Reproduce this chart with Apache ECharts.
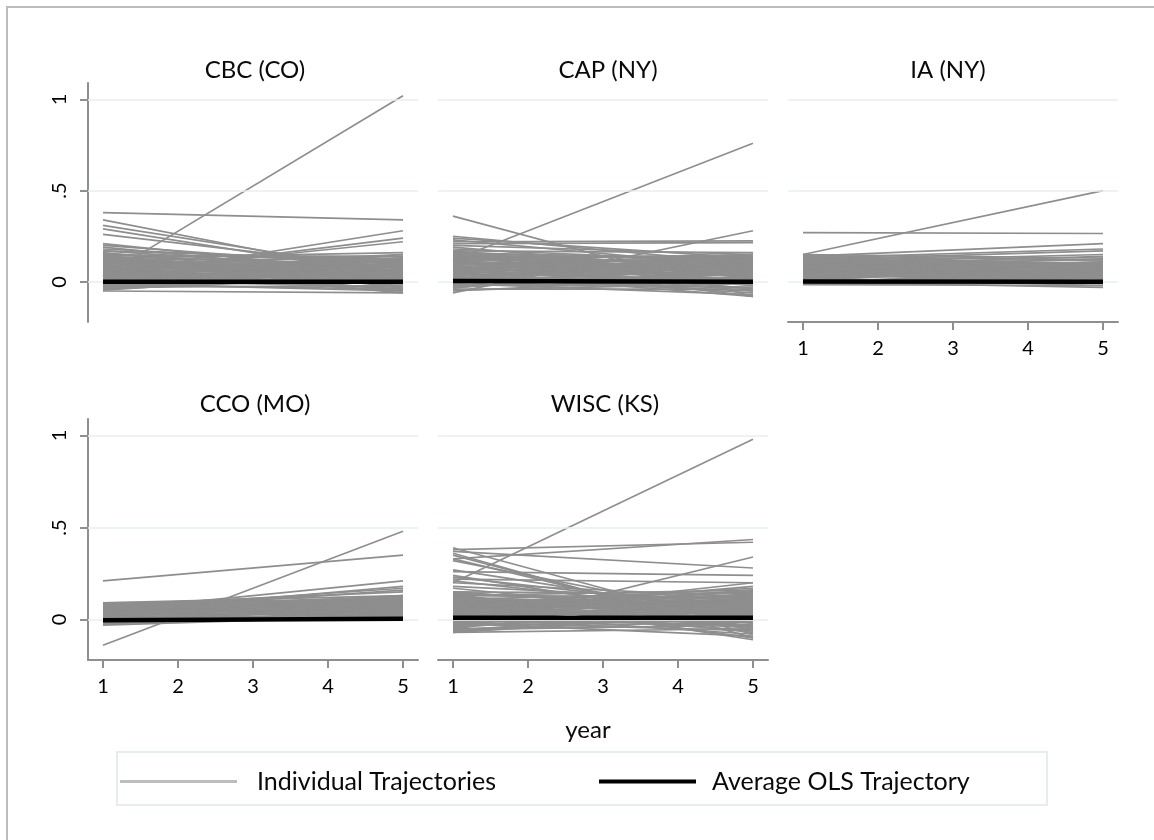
<!DOCTYPE html>
<html>
<head>
<meta charset="utf-8">
<script src="https://cdn.jsdelivr.net/npm/echarts@6/dist/echarts.min.js"></script>
<style>
  html, body { margin: 0; padding: 0; background: #fff; }
  #chart { width: 1154px; height: 840px; }
</style>
</head>
<body>
<div id="chart"></div>
<script>
// fitted value of each trajectory at year 1 and year 5
var years = [1, 5];
var panelNames = ['CBC (CO)', 'CAP (NY)', 'IA (NY)', 'CCO (MO)', 'WISC (KS)'];

var cbcStart = [0.03, 0.38, 0.34, 0.31, 0.29, 0.26, 0.21, 0.02, 0.04, 0.05, 0.20, 0.18, 0.17,
    0.15, 0.14, 0.13, 0.12, 0.11, 0.10, 0.10, 0.09, 0.08, 0.08, 0.07, 0.07, 0.06, 0.06, 0.05, 0.05,
    0.04, 0.04, 0.03, 0.03, 0.02, 0.02, 0.01, 0.01, 0.00, 0.00, -0.01, -0.01, -0.02, -0.02, -0.03,
    -0.03, -0.04, -0.05, -0.04, 0.12, 0.09, 0.13, 0.11, 0.16,
    0.155, 0.145, 0.135, 0.125, 0.115, 0.105, 0.095, 0.085, 0.075, 0.065, 0.055, 0.045, 0.035,
    0.025, 0.015, 0.005, -0.005, -0.015, -0.025, -0.035, -0.045, 0.19, 0.17, 0.14, 0.12, 0.10,
    0.08, 0.06, 0.04, 0.02];
var cbcEnd = [1.02, 0.34, 0.02, 0.05, 0.03, 0.07, 0.04, 0.28, 0.24, 0.22, 0.08, 0.10, 0.06,
    0.12, 0.03, 0.16, 0.08, 0.00, 0.14, 0.05, 0.11, -0.02, 0.09, 0.13, 0.04, 0.07, -0.04, 0.10, 0.02,
    0.12, 0.06, -0.01, 0.08, 0.04, 0.15, -0.03, 0.06, 0.09, 0.02, -0.05, 0.05, 0.11, 0.01, -0.02,
    0.07, 0.03, -0.06, 0.10, -0.05, -0.06, 0.05, 0.11, 0.01,
    0.06, 0.14, -0.03, 0.12, 0.04, 0.09, 0.01, 0.15, 0.06, 0.11, -0.05, 0.08, 0.13,
    0.00, 0.10, 0.05, 0.12, -0.04, 0.09, 0.04, 0.06, 0.03, 0.12, 0.09, 0.02, -0.01,
    0.05, 0.13, 0.01, 0.07];

var capStart = [0.12, 0.36, 0.22, 0.21, -0.06, 0.25, 0.24, 0.23, 0.20, 0.19,
    0.17, 0.16, 0.16, 0.15, 0.14, 0.14, 0.13, 0.12, 0.11, 0.10, 0.10, 0.09, 0.08, 0.08, 0.07, 0.06,
    0.06, 0.05, 0.04, 0.04, 0.03, 0.02, 0.02, 0.01, 0.00, 0.00, -0.01, -0.02, -0.02, -0.03, -0.04,
    -0.05, 0.12, 0.15, 0.13, 0.11, 0.09, 0.05,
    0.165, 0.155, 0.145, 0.135, 0.125, 0.115, 0.105, 0.095, 0.085, 0.075, 0.065, 0.055, 0.045,
    0.035, 0.025, 0.015, 0.005, -0.005, -0.015, -0.025, -0.035, -0.045, 0.18, 0.17, 0.14, 0.12,
    0.10, 0.07, 0.03, 0.01];
var capEnd = [0.76, -0.08, 0.225, 0.215, 0.28, 0.10, 0.13, 0.08, 0.15, 0.05,
    0.16, 0.04, 0.12, 0.09, 0.14, -0.02, 0.07, 0.11, 0.01, 0.13, 0.06, -0.05, 0.10, 0.03, 0.12, -0.01,
    0.08, 0.05, 0.15, -0.06, 0.09, 0.02, 0.11, -0.03, 0.07, 0.04, -0.07, 0.10, 0.00, 0.06, -0.04,
    0.03, -0.08, 0.00, 0.14, 0.08, 0.15, -0.08,
    0.08, 0.13, 0.03, 0.10, -0.04, 0.12, 0.05, 0.09, -0.02, 0.14, 0.04, 0.11, 0.01,
    0.07, -0.05, 0.13, 0.02, 0.09, -0.03, 0.05, 0.12, -0.01, 0.11, 0.02, 0.06, 0.15,
    0.00, 0.07, 0.13, 0.10];

var iaStart = [0.15, 0.27, 0.14, 0.13, 0.12, 0.11, 0.15, 0.14,
    0.15, 0.14, 0.13, 0.13, 0.12, 0.12, 0.11, 0.10, 0.10, 0.09, 0.09, 0.08, 0.08, 0.07, 0.07, 0.06,
    0.06, 0.05, 0.05, 0.04, 0.04, 0.03, 0.03, 0.02, 0.02, 0.01, 0.01, 0.00, 0.00, -0.01, -0.01,
    -0.015, 0.11, 0.10, 0.09, 0.07,
    0.145, 0.135, 0.125, 0.115, 0.105, 0.095, 0.085, 0.075, 0.065, 0.055, 0.045, 0.035, 0.025,
    0.015, 0.005, -0.005, 0.14, 0.12, 0.10, 0.08, 0.06, 0.04, 0.02, 0.00];
var iaEnd = [0.50, 0.265, 0.21, 0.18, 0.17, 0.15, 0.13, 0.12,
    0.09, 0.05, 0.08, 0.01, 0.06, 0.10, 0.03, 0.08, 0.00, 0.07, 0.04, 0.09, 0.02, 0.06, -0.01, 0.08,
    0.03, 0.05, 0.11, 0.00, 0.07, 0.04, 0.09, -0.02, 0.06, 0.02, 0.08, -0.03, 0.05, 0.01, 0.07,
    -0.02, 0.10, 0.12, 0.14, 0.11,
    0.07, 0.10, 0.03, 0.06, 0.09, 0.01, 0.05, 0.08, 0.00, 0.06, 0.09, 0.02, 0.05,
    0.07, 0.00, 0.04, 0.02, 0.08, 0.05, 0.03, 0.10, 0.04, 0.09, 0.02];

var ccoStart = [-0.14, 0.21, 0.05, 0.04, 0.06, 0.05, 0.08,
    0.09, 0.09, 0.08, 0.08, 0.07, 0.07, 0.06, 0.06, 0.05, 0.05, 0.04, 0.04, 0.03, 0.03, 0.02, 0.02,
    0.01, 0.01, 0.00, 0.00, -0.01, -0.01, -0.02, -0.02, -0.03, 0.08, 0.06, 0.09, 0.03, 0.02,
    0.085, 0.075, 0.065, 0.055, 0.045, 0.035, 0.025, 0.015, 0.005, -0.005, -0.015, -0.025,
    0.09, 0.07, 0.05, 0.03, 0.01, -0.01, 0.08, 0.06];
var ccoEnd = [0.48, 0.35, 0.21, 0.18, 0.17, 0.16, 0.15,
    0.13, 0.06, 0.11, 0.03, 0.12, 0.08, 0.10, 0.02, 0.09, 0.13, 0.06, 0.11, 0.04, 0.12, 0.08, 0.01,
    0.10, 0.05, 0.07, 0.00, 0.03, 0.09, 0.05, 0.11, 0.02, 0.00, 0.04, 0.10, 0.13, 0.12,
    0.07, 0.10, 0.04, 0.12, 0.07, 0.09, 0.03, 0.11, 0.06, 0.02, 0.08, 0.04,
    0.09, 0.05, 0.01, 0.07, 0.12, 0.06, 0.12, 0.08];

var wiscStart = [0.20, 0.33, 0.38, 0.37, -0.06, 0.26, 0.22, 0.36, 0.35, 0.39, 0.33, 0.32, 0.27,
    0.24, 0.23, 0.21, 0.20, 0.18, 0.17, 0.02, 0.04, 0.05,
    0.15, 0.15, 0.14, 0.13, 0.13, 0.12, 0.11, 0.11, 0.10, 0.09, 0.09, 0.08, 0.07, 0.07, 0.06, 0.05,
    0.05, 0.04, 0.03, 0.03, 0.02, 0.01, 0.01, 0.00, 0.00, -0.01, -0.02, -0.02, -0.03, -0.04, -0.05,
    -0.06, -0.07, -0.07, 0.14, 0.12, 0.10, 0.08, 0.06,
    0.145, 0.135, 0.125, 0.115, 0.105, 0.095, 0.085, 0.075, 0.065, 0.055, 0.045, 0.035, 0.025,
    0.015, 0.005, -0.005, -0.015, -0.025, -0.035, -0.045, -0.055, -0.065, 0.13, 0.11, 0.09, 0.07,
    0.05, 0.03, 0.01, -0.01];
var wiscEnd = [0.98, 0.435, 0.42, 0.28, 0.34, 0.24, 0.20, -0.10, -0.08, -0.05, -0.06, 0.00, 0.02,
    -0.02, 0.05, 0.03, 0.12, 0.10, 0.01, 0.20, 0.18, 0.16,
    0.14, 0.04, 0.09, 0.12, -0.02, 0.07, 0.15, 0.02, 0.10, -0.04, 0.13, 0.06, 0.11, 0.00, 0.08, -0.06,
    0.14, 0.04, 0.10, -0.08, 0.07, 0.01, 0.12, -0.03, 0.09, 0.05, -0.09, 0.11, 0.02, 0.08, -0.01,
    0.06, -0.05, 0.03, -0.11, -0.10, -0.07, 0.17, 0.15,
    0.06, 0.11, 0.01, 0.08, -0.05, 0.12, 0.03, 0.09, -0.02, 0.10, 0.05, 0.13, -0.04,
    0.07, 0.02, 0.11, -0.06, 0.06, 0.00, 0.09, -0.03, 0.04, 0.16, 0.05, 0.07, -0.03,
    0.09, 0.03, 0.14, 0.01];

// average OLS trajectory per panel
var avgStart = [0.0, 0.005, 0.002, -0.004, 0.01];
var avgEnd = [0.0, 0.0, 0.0, 0.004, 0.01];

var xTicks = [1, 2, 3, 4, 5];
var yTicks = [0, 0.5, 1];
var yTickLabels = ['0', '.5', '1'];

var starts = [cbcStart, capStart, iaStart, ccoStart, wiscStart];
var ends = [cbcEnd, capEnd, iaEnd, ccoEnd, wiscEnd];

var myChart = echarts.init(document.getElementById('chart'));

var font = 'Lato';
var axisGray = '#8f8f8f';
var boxes = [
    {left: 88, top: 83, title: 250},
    {left: 438, top: 83, title: 603},
    {left: 788, top: 83, title: 943},
    {left: 88, top: 419, title: 250},
    {left: 438, top: 419, title: 600}
];
var showY = [true, false, false, true, false];
var showX = [false, false, true, true, true];

var grids = [], xAxes = [], yAxes = [], titles = [], series = [];

boxes.forEach(function (b, i) {
    grids.push({left: b.left, top: b.top, width: 330, height: i < 3 ? 239 : 241});
    titles.push({
        text: panelNames[i], left: b.title, top: i < 3 ? 53 : 387, textAlign: 'center',
        textStyle: {fontFamily: font, fontSize: 24, fontWeight: 'normal', color: '#0a0a0a'}
    });
    xAxes.push({
        type: 'value', gridIndex: i, min: 0.8, max: 5.2,
        axisLine: {show: showX[i], onZero: false, lineStyle: {color: axisGray, width: 2}},
        axisTick: {show: showX[i], length: 8, customValues: xTicks, lineStyle: {color: axisGray, width: 2}},
        axisLabel: {
            show: showX[i], customValues: xTicks, margin: 17,
            fontFamily: font, fontSize: 20, color: '#000'
        },
        splitLine: {show: false}
    });
    yAxes.push({
        type: 'value', gridIndex: i, min: -0.22, max: 1.09,
        axisLine: {show: showY[i], lineStyle: {color: axisGray, width: 2}},
        axisTick: {show: showY[i], length: 8, customValues: yTicks, lineStyle: {color: axisGray, width: 2}},
        axisLabel: {
            show: showY[i], customValues: yTicks, rotate: 90, margin: 18,
            fontFamily: font, fontSize: 20, color: '#000',
            formatter: function (v) { return yTickLabels[yTicks.indexOf(v)]; }
        },
        splitLine: {show: false}
    });

    // grid lines at the y ticks
    series.push({
        type: 'line', xAxisIndex: i, yAxisIndex: i, data: [], silent: true, z: 1,
        markLine: {
            silent: true, symbol: 'none', label: {show: false},
            lineStyle: {color: '#e4eff0', width: 1.5, type: 'solid'},
            data: yTicks.map(function (t) { return {yAxis: t}; })
        }
    });

    starts[i].forEach(function (s, k) {
        series.push({
            name: 'Individual Trajectories', type: 'line', xAxisIndex: i, yAxisIndex: i,
            symbol: 'none', silent: true, z: 2,
            lineStyle: {color: '#8e8e8e', width: 1.7},
            data: [[years[0], s], [years[1], ends[i][k]]]
        });
    });

    series.push({
        name: 'Average OLS Trajectory', type: 'line', xAxisIndex: i, yAxisIndex: i,
        symbol: 'none', silent: true, z: 5,
        lineStyle: {color: '#000', width: 4.5},
        data: [[years[0], avgStart[i]], [years[1], avgEnd[i]]]
    });
});

titles.push({
    text: 'year', left: 583, top: 713, textAlign: 'center',
    textStyle: {fontFamily: font, fontSize: 24, fontWeight: 'normal', color: '#0a0a0a'}
});

var option = {
    backgroundColor: '#fff',
    animation: false,
    title: titles,
    grid: grids,
    xAxis: xAxes,
    yAxis: yAxes,
    legend: [
        {
            data: ['Individual Trajectories'], left: 115, top: 764, selectedMode: false,
            icon: 'rect', itemWidth: 117, itemHeight: 3,
            itemStyle: {color: '#bdbdbd'},
            textStyle: {fontFamily: font, fontSize: 25, color: '#0a0a0a', padding: [0, 0, 0, 15]}
        },
        {
            data: ['Average OLS Trajectory'], left: 594, top: 764, selectedMode: false,
            icon: 'rect', itemWidth: 97, itemHeight: 4,
            itemStyle: {color: '#000'},
            textStyle: {fontFamily: font, fontSize: 25, color: '#0a0a0a', padding: [0, 0, 0, 11]}
        }
    ],
    graphic: [
        {
            type: 'rect', silent: true, z: -1,
            shape: {x: 7, y: 7, width: 1300, height: 1000},
            style: {fill: null, stroke: '#bcbcbc', lineWidth: 2}
        },
        {
            type: 'rect', silent: true, z: -1,
            shape: {x: 117, y: 752, width: 930, height: 53},
            style: {fill: null, stroke: '#e6eded', lineWidth: 2}
        }
    ],
    series: series
};

myChart.setOption(option);
</script>
</body>
</html>
